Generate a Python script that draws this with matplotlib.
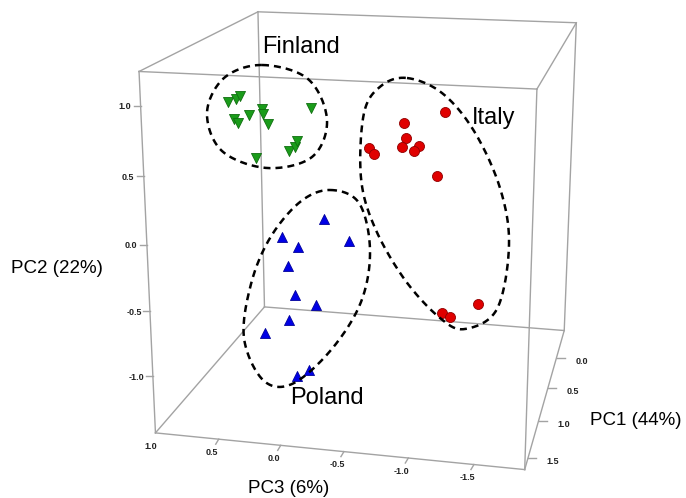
import numpy as np
import matplotlib.pyplot as plt

W, H = 686, 498

# PCA scores per country: PC1 (depth), PC2 (vertical), PC3 (horizontal)
fin_pc1 = [0.8, 0.8, 0.8, 0.8, 0.8, 0.8, 0.8, 0.8, 0.8, 0.8, 0.8, 0.8, 0.8, 0.8]
fin_pc2 = [0.81, 0.84, 0.86, 0.68, 0.65, 0.72, 0.77, 0.73, 0.66, 0.39, 0.46, 0.49, 0.54, 0.80]
fin_pc3 = [0.74, 0.67, 0.63, 0.69, 0.66, 0.56, 0.45, 0.44, 0.40, 0.51, 0.23, 0.18, 0.16, 0.04]

ita_pc1 = [0.3, 0.3, 0.3, 0.3, 0.3, 0.3, 0.3, 0.3, 0.3, 0.3, 0.3, 0.3]
ita_pc2 = [0.67, 0.57, 0.45, 0.37, 0.39, 0.35, 0.35, 0.30, 0.15, -0.99, -1.02, -0.89]
ita_pc3 = [-0.92, -0.57, -0.59, -0.56, -0.70, -0.66, -0.27, -0.32, -0.86, -0.92, -0.99, -1.23]

pol_pc1 = [1.0, 1.0, 1.0, 1.0, 1.0, 1.0, 1.0, 1.0, 1.0, 1.0, 1.0]
pol_pc2 = [0.02, -0.15, -0.22, -0.14, -0.37, -0.60, -0.67, -0.81, -0.93, -1.26, -1.20]
pol_pc3 = [-0.13, 0.22, 0.09, -0.33, 0.18, 0.12, -0.05, 0.18, 0.38, 0.12, 0.01]

pc1_ticks = [0.0, 0.5, 1.0, 1.5]
pc2_ticks = [1.0, 0.5, 0.0, -0.5, -1.0]
pc3_ticks = [1.0, 0.5, 0.0, -0.5, -1.0, -1.5]

pc1_lim = (-0.5, 1.65)
pc2_lim = (-1.45, 1.24)
pc3_lim = (-1.88, 1.02)

# where the box corners land on the canvas, used to fit the perspective camera
corners = [
    ((pc1_lim[1], pc2_lim[1], pc3_lim[1]), (138, 71)),
    ((pc1_lim[1], pc2_lim[1], pc3_lim[0]), (537, 89)),
    ((pc1_lim[1], pc2_lim[0], pc3_lim[1]), (157, 433)),
    ((pc1_lim[1], pc2_lim[0], pc3_lim[0]), (524, 470)),
    ((pc1_lim[0], pc2_lim[1], pc3_lim[1]), (259, 12)),
    ((pc1_lim[0], pc2_lim[1], pc3_lim[0]), (576, 23)),
    ((pc1_lim[0], pc2_lim[0], pc3_lim[1]), (263, 307)),
    ((pc1_lim[0], pc2_lim[0], pc3_lim[0]), (565, 330)),
]

# freehand loops drawn around each cluster (canvas pixels)
loop_fin = [(262, 65), (308, 79), (327, 120), (312, 157), (267, 168), (222, 151), (207, 113),
            (224, 78)]
loop_ita = [(407, 78), (442, 93), (474, 131), (500, 188), (509, 245), (497, 309), (465, 329),
            (440, 318), (405, 280), (375, 228), (361, 178), (364, 113), (381, 86)]
loop_pol = [(330, 190), (359, 203), (370, 250), (361, 302), (331, 350), (292, 384), (263, 380),
            (244, 338), (251, 284), (270, 238), (300, 202)]


def fit_camera(pairs):
    rows = []
    for (a, b, c), (u, v) in pairs:
        X = np.array([a, b, c, 1.0])
        rows.append(np.r_[X, np.zeros(4), -u * X])
        rows.append(np.r_[np.zeros(4), X, -v * X])
    _, _, vt = np.linalg.svd(np.array(rows))
    return vt[-1].reshape(3, 4)


P = fit_camera(corners)


def project(pc1, pc2, pc3):
    pc1, pc2, pc3 = np.broadcast_arrays(np.asarray(pc1, float), np.asarray(pc2, float),
                                        np.asarray(pc3, float))
    X = np.stack([pc1, pc2, pc3, np.ones_like(pc1)])
    q = P @ X
    return q[0] / q[2], q[1] / q[2]


def closed_spline(pts, n=30):
    # closed Catmull-Rom curve through the given points
    p = np.asarray(pts, float)
    out = []
    t = np.linspace(0, 1, n, endpoint=False)[:, None]
    for i in range(len(p)):
        p0, p1, p2, p3 = p[i - 1], p[i], p[(i + 1) % len(p)], p[(i + 2) % len(p)]
        out.append(0.5 * (2 * p1 + (-p0 + p2) * t + (2 * p0 - 5 * p1 + 4 * p2 - p3) * t ** 2
                          + (-p0 + 3 * p1 - 3 * p2 + p3) * t ** 3))
    out = np.vstack(out)
    return np.vstack([out, out[:1]])


fig = plt.figure(figsize=(W / 100, H / 100), dpi=100)
ax = fig.add_axes([0, 0, 1, 1])
ax.set_xlim(0, W)
ax.set_ylim(H, 0)
ax.axis('off')

# wireframe box
box_col = '#a3a3a3'
for i, (ci, _) in enumerate(corners):
    for cj, _ in corners[i + 1:]:
        if sum(a != b for a, b in zip(ci, cj)) == 1:
            xs, ys = project([ci[0], cj[0]], [ci[1], cj[1]], [ci[2], cj[2]])
            ax.plot(xs, ys, color=box_col, lw=1.0, zorder=1)

tick_kw = dict(fontsize=6.5, fontweight='bold', color='#222222', family='Liberation Sans')

# PC2 ticks on the front-left edge
for t in pc2_ticks:
    x, y = project(pc1_lim[1], t, pc3_lim[1])
    ax.plot([x - 7, x], [y, y], color=box_col, lw=1.0)
    ax.text(x - 16, y + 1, f"{t:.1f}", ha='center', va='center', **tick_kw)

# PC3 ticks on the front-bottom edge
for t in pc3_ticks:
    x, y = project(pc1_lim[1], pc2_lim[0], t)
    if t < pc3_lim[1] - 0.05:
        ax.plot([x, x - 3], [y, y + 5], color=box_col, lw=1.0)
    ax.text(x - 7, y + 13, f"{t:.1f}", ha='center', va='center', **tick_kw)

# PC1 ticks on the right-bottom depth edge
for t in pc1_ticks:
    x, y = project(t, pc2_lim[0], pc3_lim[0])
    ax.plot([x, x + 8], [y, y], color=box_col, lw=1.0)
    ax.text(x + 25, y + 4, f"{t:.1f}", ha='center', va='center', **tick_kw)

# country scores
groups = [
    (fin_pc1, fin_pc2, fin_pc3, 'v', '#1a9c1a', '#0f6e0f'),
    (ita_pc1, ita_pc2, ita_pc3, 'o', '#e00000', '#900000'),
    (pol_pc1, pol_pc2, pol_pc3, '^', '#0000e6', '#00009a'),
]
for a, b, c, m, fc, ec in groups:
    xs, ys = project(a, b, c)
    ax.scatter(xs, ys, marker=m, s=52, c=fc, edgecolors=ec, linewidths=0.6, zorder=3)

for loop in (loop_fin, loop_ita, loop_pol):
    curve = closed_spline(loop)
    ax.plot(curve[:, 0], curve[:, 1], color='black', lw=1.8, linestyle=(0, (2.8, 2.0)),
            zorder=4)

lab_kw = dict(family='Liberation Sans', color='black', ha='center', va='center')
ax.text(301, 47, 'Finland', fontsize=17, **lab_kw)
ax.text(494, 118, 'Italy', fontsize=17, **lab_kw)
ax.text(327, 398, 'Poland', fontsize=17, **lab_kw)

ax.text(57, 268, 'PC2 (22%)', fontsize=13.5, **lab_kw)
ax.text(289, 488, 'PC3 (6%)', fontsize=13.5, **lab_kw)
ax.text(636, 420, 'PC1 (44%)', fontsize=13.5, **lab_kw)

fig.savefig('out.png', dpi=100)
